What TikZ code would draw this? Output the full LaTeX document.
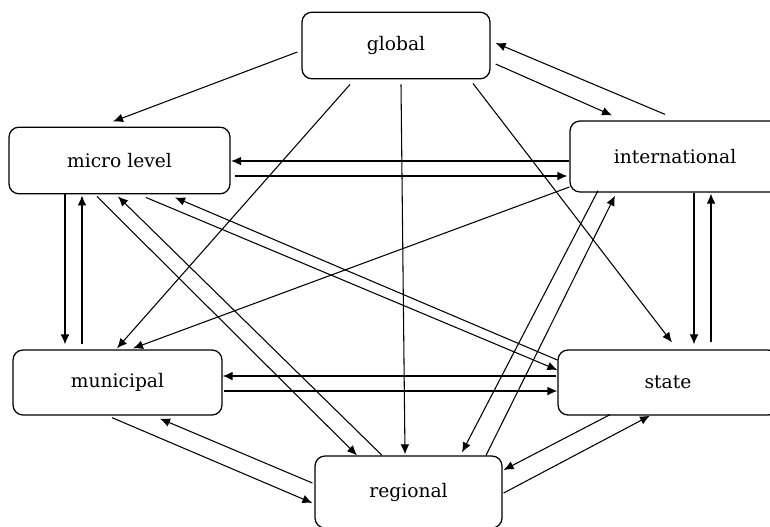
\documentclass[tikz,border=0pt]{standalone}
\usepackage{fontspec}
\setmainfont{DejaVu Serif}
\usepackage{tikz}
\usetikzlibrary{arrows.meta}

\tikzset{
  lvl/.style={draw, line width=0.95pt, rounded corners=7.5pt, minimum height=50pt, font=\fontsize{14}{16}\selectfont},
  arr/.style={line width=0.8pt, -{Latex[length=7.5pt,width=6.5pt]}}
}

\begin{document}
\begin{tikzpicture}[x=0.75pt,y=0.75pt,yscale=-1,xscale=1]
\useasboundingbox (0,0) rectangle (770,526);
\clip (0,0) rectangle (770,526);

%Shape: Rounded Rect [id:global]
\node [lvl, minimum width=141pt] (glob) at (396,45.5) {global};
%Shape: Rounded Rect [id:micro]
\node [lvl, minimum width=165.75pt] (micro) at (119.5,160.5) {micro level};
%Shape: Rounded Rect [id:international]
\node [lvl, minimum width=157.5pt, minimum height=53.25pt] (intl) at (675,156.5) {international};
%Shape: Rounded Rect [id:municipal]
\node [lvl, minimum width=156.75pt, minimum height=48.75pt] (muni) at (117.5,382.5) {municipal};
%Shape: Rounded Rect [id:state]
\node [lvl, minimum width=165pt, minimum height=48.75pt] (state) at (668,382.5) {state};
%Shape: Rounded Rect [id:regional]
\node [lvl, minimum width=140.25pt, minimum height=54pt] (reg) at (408.5,492) {regional};

%Straight Lines: from global
\draw [arr] ([shift={(-4,6.5)}]glob.west) -- ([shift={(-6.5,-5)}]micro.north);
\draw [arr] ([shift={(-46,5)}]glob.south) -- ([shift={(-0.5,-1)}]muni.north);
\draw [arr] ([shift={(5,5)}]glob.south) -- ([shift={(-3.5,-1)}]reg.north);
\draw [arr] ([shift={(77,4)}]glob.south) -- ([shift={(4,-7)}]state.north);
\draw [arr] ([shift={(5,18.5)}]glob.east) -- ([shift={(-63,-5)}]intl.north);

%Straight Lines: from international
\draw [arr] ([shift={(-10,-6)}]intl.north) -- ([shift={(5,-2.5)}]glob.east);
\draw [arr] ([shift={(0,4.5)}]intl.west) -- ([shift={(0.5,0.5)}]micro.east);
\draw [arr] ([shift={(0,30.5)}]intl.west) -- ([shift={(15.5,-1)}]muni.north);
\draw [arr] ([shift={(-77,-2)}]intl.south) -- ([shift={(53.5,-3)}]reg.north);
\draw [arr] ([shift={(19,0)}]intl.south) -- ([shift={(26,-5)}]state.north);

%Straight Lines: from micro level
\draw [arr] ([shift={(4,15.5)}]micro.east) -- ([shift={(-2,19.5)}]intl.west);
\draw [arr] ([shift={(-54.5,0)}]micro.south) -- ([shift={(-52.5,-5)}]muni.north);
\draw [arr] ([shift={(-22.5,2)}]micro.south) -- ([shift={(-51.5,0)}]reg.north);
\draw [arr] ([shift={(26.5,3)}]micro.south) -- ([shift={(0,-12.5)}]state.west);

%Straight Lines: from municipal
\draw [arr] ([shift={(-35.5,-5)}]muni.north) -- ([shift={(-37.5,1)}]micro.south);
\draw [arr] ([shift={(1,8.5)}]muni.east) -- ([shift={(0,8.5)}]state.west);
\draw [arr] ([shift={(-5.5,2)}]muni.south) -- ([shift={(-2,11)}]reg.west);

%Straight Lines: from state
\draw [arr] ([shift={(43,-7)}]state.north) -- ([shift={(36,1)}]intl.south);
\draw [arr] ([shift={(0,-22.5)}]state.west) -- ([shift={(55.5,3)}]micro.south);
\draw [arr] ([shift={(-1,-6.5)}]state.west) -- ([shift={(0,-6.5)}]muni.east);
\draw [arr] ([shift={(-58,-1)}]state.south) -- ([shift={(1,-22)}]reg.east);

%Straight Lines: from regional
\draw [arr] ([shift={(77.5,0)}]reg.north) -- ([shift={(-60,3)}]intl.south);
\draw [arr] ([shift={(-26.5,0)}]reg.north) -- ([shift={(-1.5,2)}]micro.south);
\draw [arr] ([shift={(-2,-9)}]reg.west) -- ([shift={(42.5,3)}]muni.south);
\draw [arr] ([shift={(1,1)}]reg.east) -- ([shift={(-18,0)}]state.south);

\end{tikzpicture}
\end{document}
